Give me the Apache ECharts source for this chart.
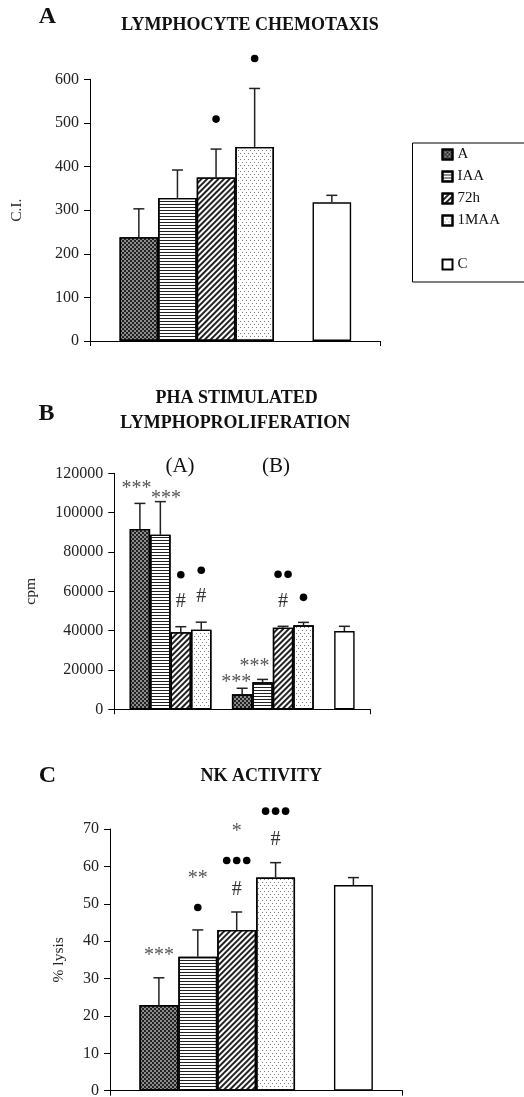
<!DOCTYPE html>
<html>
<head>
<meta charset="utf-8">
<script src="https://cdn.jsdelivr.net/npm/echarts@6/dist/echarts.min.js"></script>
<style>
html, body { margin: 0; padding: 0; background: #fff; }
#chart { width: 524px; height: 1097px; }
</style>
</head>
<body>
<div id="chart"></div>
<script>
// treatment groups, same order in every panel
const groups = ['A', 'IAA', '72h', '1MAA'];
const control = 'C';

// A: lymphocyte chemotaxis (C.I.)
const chemoMean = [238, 328, 375, 445];
const chemoErr = [65, 64, 65, 134];
const chemoNotes = ['', '', '●', '●'];
const chemoCtrl = [318, 16];

// B: PHA stimulated lymphoproliferation (cpm), sets (A) and (B)
const prolifMeanA = [91700, 88800, 39200, 40500];
const prolifErrA = [13000, 16800, 2800, 3800];
const prolifNotesA = ['***', '***', '●\n#', '●\n#'];
const prolifMeanB = [7600, 13700, 41500, 42700];
const prolifErrB = [3100, 1500, 700, 1500];
const prolifNotesB = ['***', '***', '●●\n#', '●'];
const prolifCtrl = [39800, 2400];

// C: NK activity (% lysis)
const nkMean = [22.9, 35.8, 43.0, 57.0];
const nkErr = [7.3, 7.2, 4.8, 4.0];
const nkNotes = ['***', '**\n●', '*\n●●●\n#', '●●●\n#'];
const nkCtrl = [55.0, 2.0];

const serif = "'Liberation Serif', 'Times New Roman', serif";

const fills = {
    'A': { color: '#8c8c8c', decal: { symbol: 'rect', symbolSize: 1, color: '#222', dashArrayX: [[2, 2], [0, 2, 2, 0]], dashArrayY: [2, 0] } },
    'IAA': { color: '#fff', decal: { symbol: 'rect', symbolSize: 1, color: '#222', dashArrayX: [1, 0], dashArrayY: [1, 2] } },
    '72h': { color: '#fff', decal: { symbol: 'rect', symbolSize: 1, color: '#222', dashArrayX: [1, 0], dashArrayY: [1.5, 2], rotation: -Math.PI / 4 } },
    '1MAA': { color: '#fff', decal: { symbol: 'rect', symbolSize: 1, color: '#808080', dashArrayX: [[1, 3], [0, 2, 1, 1]], dashArrayY: [1, 2] } },
    'C': { color: '#fff' }
};

function entries(names, means, errs, notes) {
    return names.map((n, i) => ({ name: n, mean: means[i], err: errs[i], note: notes[i] }));
}

const panels = [
    {
        bars: [...entries(groups, chemoMean, chemoErr, chemoNotes), null,
               { name: control, mean: chemoCtrl[0], err: chemoCtrl[1], note: '' }],
        barWidth: 38.6, gap: 30, pitch: 29, nudge: []
    },
    {
        bars: [...entries(groups, prolifMeanA, prolifErrA, prolifNotesA), null,
               ...entries(groups, prolifMeanB, prolifErrB, prolifNotesB), null,
               { name: control, mean: prolifCtrl[0], err: prolifCtrl[1], note: '' }],
        barWidth: 20.45, gap: 25, pitch: 27,
        nudge: [[-3.5, 10.6], [5.7, 22], null, null, null, [-5.8, 19.6], [-8, 12.6]]
    },
    {
        bars: [...entries(groups, nkMean, nkErr, nkNotes), null,
               { name: control, mean: nkCtrl[0], err: nkCtrl[1], note: '' }],
        barWidth: 38.9, gap: 22.5, pitch: 29, nudge: []
    }
];

const series = [];
panels.forEach((p, g) => {
    const n = p.bars.length;
    p.bars.forEach(b => {
        series.push({
            type: 'bar', name: b ? b.name : ' ',
            xAxisIndex: g, yAxisIndex: g,
            data: [b ? b.mean : '-'],
            barWidth: p.barWidth, barGap: '0%',
            silent: true,
            itemStyle: b ? Object.assign({ borderColor: '#000', borderWidth: 1.4 }, fills[b.name]) : { color: 'transparent' }
        });
    });
    const list = [];
    p.bars.forEach((b, slot) => { if (b) list.push({ b, slot }); });
    series.push({
        type: 'custom', xAxisIndex: g, yAxisIndex: g, silent: true, clip: false, z: 5,
        encode: { x: 0, y: 1 },
        data: list.map(d => [0, d.b.mean, d.b.err]),
        renderItem: (params, api) => {
            const d = list[params.dataIndex];
            const layout = api.barLayout({ count: n, barWidth: p.barWidth, barGap: '0%' });
            const base = api.coord([0, api.value(1)]);
            const top = api.coord([0, api.value(1) + api.value(2)]);
            const x = base[0] + layout[d.slot].offsetCenter;
            const ln = { stroke: '#222', lineWidth: 1.5 };
            const children = [
                { type: 'line', shape: { x1: x, y1: base[1], x2: x, y2: top[1] }, style: ln },
                { type: 'line', shape: { x1: x - 5.5, y1: top[1], x2: x + 5.5, y2: top[1] }, style: ln }
            ];
            if (d.b.note) {
                const nd = p.nudge[d.slot] || [0, 0];
                const lines = d.b.note.split('\n');
                lines.forEach((t, k) => {
                    const j = lines.length - 1 - k;
                    const cx = x + nd[0];
                    const cy = top[1] - p.gap - j * p.pitch + nd[1];
                    if (/^●+$/.test(t)) {
                        for (let m = 0; m < t.length; m++) {
                            children.push({ type: 'circle', shape: { cx: cx + (m - (t.length - 1) / 2) * 10, cy: cy, r: 3.8 }, style: { fill: '#000' } });
                        }
                    } else {
                        const star = t[0] === '*';
                        children.push({ type: 'text', x: cx, y: cy, style: {
                            text: t, align: 'center', verticalAlign: 'middle',
                            fill: star ? '#555' : '#333', font: '20px ' + serif
                        } });
                    }
                });
            }
            return { type: 'group', children };
        }
    });
});

const grids = [
    { left: 90, right: 143.3, top: 79.3, height: 261.7 },
    { left: 114.3, right: 154, top: 473.3, height: 236 },
    { left: 110, right: 121.7, top: 829, height: 261.7 }
];
const yRanges = [[0, 600, 100, 'C.I.', 65], [0, 120000, 20000, 'cpm', 75], [0, 70, 10, '% lysis', 43]];

const option = {
    animation: false,
    grid: grids.map(gr => Object.assign({ outerBoundsMode: 'none' }, gr)),
    xAxis: grids.map((gr, g) => ({
        type: 'category', gridIndex: g, data: [''],
        axisLine: { show: true, lineStyle: { color: '#000', width: 1 } },
        axisTick: { show: true, length: 5, lineStyle: { color: '#000' } },
        axisLabel: { show: false }, splitLine: { show: false }
    })),
    yAxis: yRanges.map((r, g) => ({
        type: 'value', gridIndex: g, min: r[0], max: r[1], interval: r[2],
        name: r[3], nameLocation: 'middle', nameGap: r[4],
        nameTextStyle: { fontFamily: serif, fontSize: 15.5, color: '#222' },
        axisLine: { show: true, lineStyle: { color: '#000', width: 1 } },
        axisTick: { show: true, length: 6, lineStyle: { color: '#000' } },
        axisLabel: { fontFamily: serif, fontSize: 16, color: '#222', margin: 11, formatter: v => String(v) },
        splitLine: { show: false }
    })),
    legend: {
        orient: 'vertical', left: 412.5, top: 143,
        padding: [4, 200, 10, 29],
        borderColor: '#000', borderWidth: 1,
        itemWidth: 10, itemHeight: 10, itemGap: 7, icon: 'rect',
        selectedMode: false,
        textStyle: { fontFamily: serif, fontSize: 15, color: '#111', lineHeight: 14 },
        data: ['A', 'IAA', '72h', '1MAA', { name: ' ', icon: 'none' }, 'C']
    },
    graphic: [
        ['A', 47.5, 17, 'bold 24px'],
        ['LYMPHOCYTE CHEMOTAXIS', 250, 25.7, 'bold 18px'],
        ['B', 46.5, 413.3, 'bold 24px'],
        ['PHA STIMULATED', 236.7, 398.3, 'bold 18px'],
        ['LYMPHOPROLIFERATION', 235.3, 423.7, 'bold 18px'],
        ['(A)', 180, 466, '21px'],
        ['(B)', 276, 466, '21px'],
        ['C', 47.5, 776, 'bold 24px'],
        ['NK ACTIVITY', 261.3, 776.7, 'bold 18px']
    ].map(t => ({
        type: 'text', x: t[1], y: t[2], silent: true,
        style: { text: t[0], align: 'center', verticalAlign: 'middle', fill: '#111', font: t[3] + ' ' + serif }
    })),
    series
};

const chart = echarts.init(document.getElementById('chart'));
chart.setOption(option);
</script>
</body>
</html>
